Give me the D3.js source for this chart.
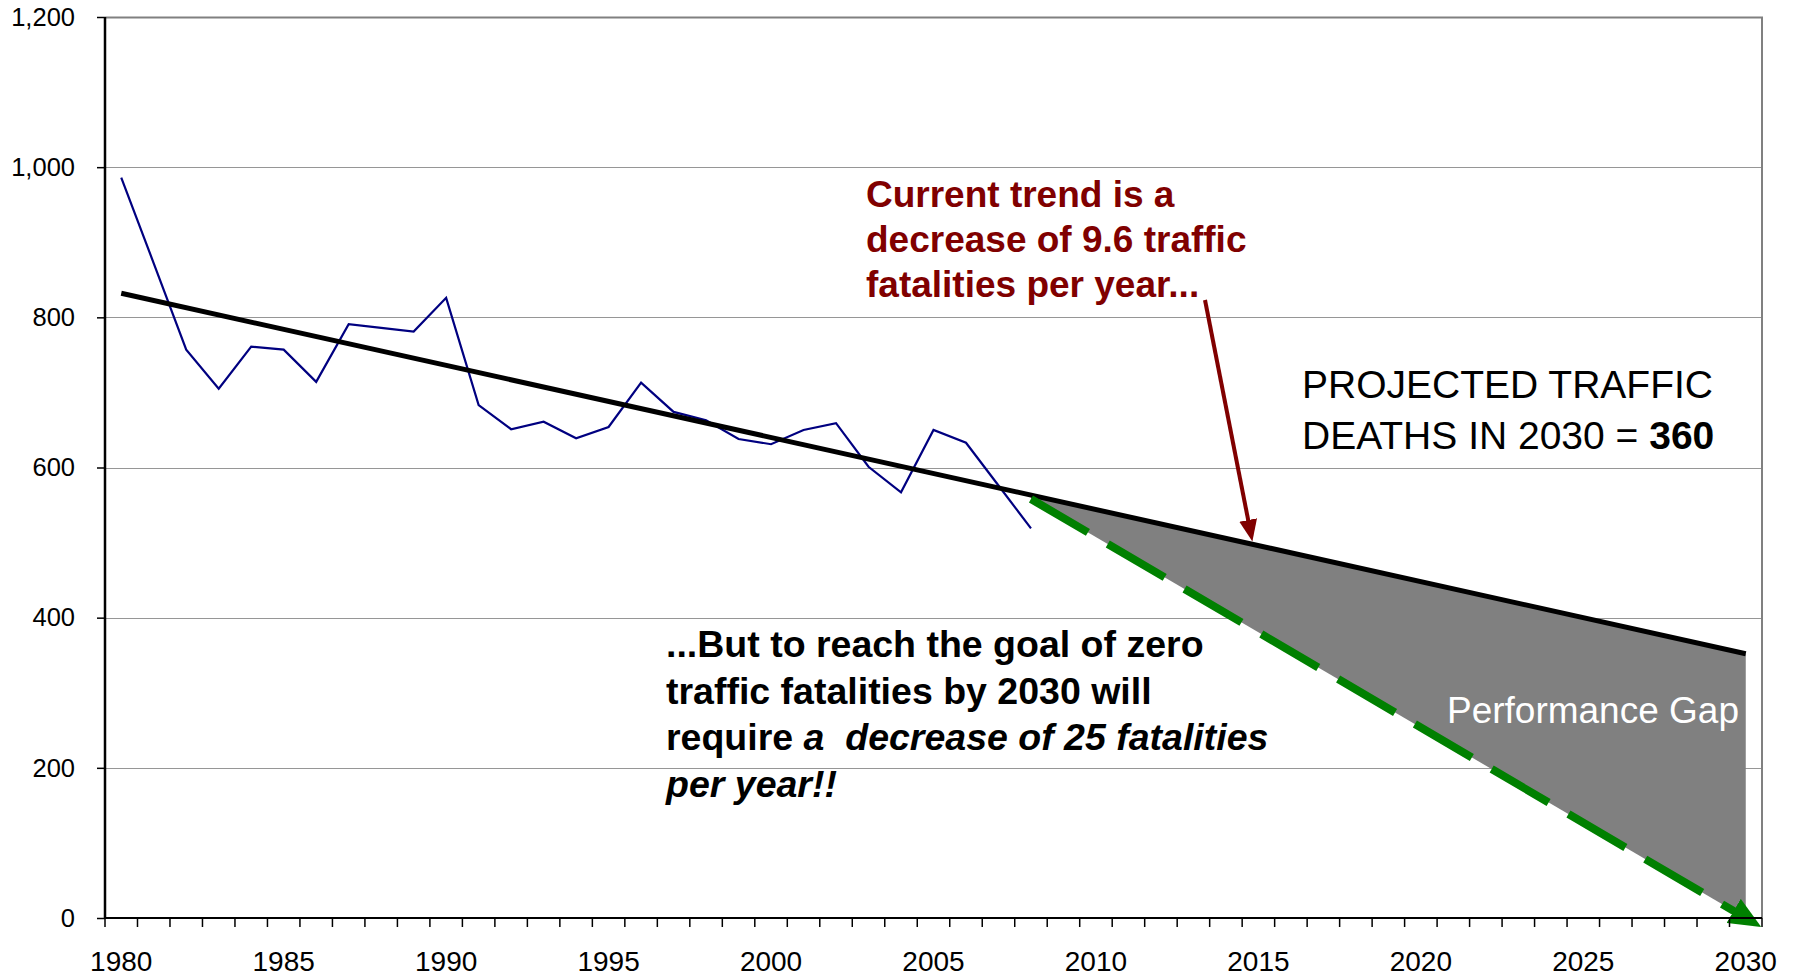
<!DOCTYPE html>
<html>
<head>
<meta charset="utf-8">
<script src="https://cdn.jsdelivr.net/npm/d3@7/dist/d3.min.js"></script>
<style>
body { margin: 0; background: #fff; }
text { font-family: "Liberation Sans", Arial, sans-serif; }
</style>
</head>
<body>
<div id="chart"></div>
<script>
// observed traffic fatalities
var fatalYears = [1980, 1981, 1982, 1983, 1984, 1985, 1986, 1987, 1988, 1989,
    1990, 1991, 1992, 1993, 1994, 1995, 1996, 1997, 1998, 1999,
    2000, 2001, 2002, 2003, 2004, 2005, 2006, 2007, 2008];
var fatalities = [986, 872, 757, 705, 761, 757, 714, 791, 786, 781,
    826, 683, 651, 661, 639, 654, 713, 674, 663, 638,
    631, 650, 659, 601, 567, 650, 633, 576, 519];

// linear trend (-9.6 / year)
var trendYears = [1980, 2030];
var trendValues = [832, 352];

// goal: zero by 2030
var goalYears = [2008, 2030];
var goalValues = [558, 0];

var axisYears = d3.range(1980, 2031);
var xLabelYears = [1980, 1985, 1990, 1995, 2000, 2005, 2010, 2015, 2020, 2025, 2030];
var yTicks = [0, 200, 400, 600, 800, 1000, 1200];

function chartBasics() {
    var margin = {
            top: 17,
            right: 34,
            bottom: 58,
            left: 105
        },
        width = 1796 - margin.left - margin.right,
        height = 976 - margin.top - margin.bottom;
    return {
        margin: margin,
        width: width,
        height: height
    };
}

var basics = chartBasics();
var margin = basics.margin,
    width = basics.width,
    height = basics.height;

var svg = d3.select("#chart")
    .append("svg")
    .attr("width", 1796)
    .attr("height", 976);

var defs = svg.append("defs");
defs.append("marker")
    .attr("id", "greenHead")
    .attr("markerUnits", "userSpaceOnUse")
    .attr("viewBox", "0 0 32 28")
    .attr("markerWidth", 32)
    .attr("markerHeight", 28)
    .attr("refX", 14)
    .attr("refY", 14)
    .attr("orient", "auto")
    .append("path")
    .attr("d", "M0,0L32,14L0,28Z")
    .attr("fill", "#008000");

defs.append("marker")
    .attr("id", "redHead")
    .attr("markerUnits", "userSpaceOnUse")
    .attr("viewBox", "0 0 22 18")
    .attr("markerWidth", 22)
    .attr("markerHeight", 18)
    .attr("refX", 2)
    .attr("refY", 9)
    .attr("orient", "auto")
    .append("path")
    .attr("d", "M0,0L22,9L0,18Z")
    .attr("fill", "#800000");

var plot = svg.append("g")
    .attr("transform", "translate(" + margin.left + "," + margin.top + ")");

var xScale = d3.scaleBand()
    .domain(axisYears)
    .range([0, width])
    .padding(0);

var cx = function(yr) {
    return xScale(yr) + xScale.bandwidth() / 2;
};

var yScale = d3.scaleLinear()
    .domain([0, 1200])
    .range([height, 0]);

var trendAt = d3.scaleLinear().domain(trendYears).range(trendValues);

// gridlines
plot.selectAll(".grid")
    .data(yTicks)
    .enter().append("line")
    .attr("class", "grid")
    .attr("x1", 0)
    .attr("x2", width)
    .attr("y1", function(d) { return Math.round(yScale(d)) + 0.5; })
    .attr("y2", function(d) { return Math.round(yScale(d)) + 0.5; })
    .attr("stroke", "#969696")
    .attr("stroke-width", 1);

// border top + right
plot.append("path")
    .attr("d", "M0," + 0.5 + "H" + width + "V" + height)
    .attr("fill", "none")
    .attr("stroke", "#808080")
    .attr("stroke-width", 2);

// performance gap
var gapPts = [
    [cx(goalYears[0]), yScale(trendAt(goalYears[0]))],
    [cx(goalYears[1]), yScale(trendAt(goalYears[1]))],
    [cx(goalYears[1]), yScale(goalValues[1])],
    [cx(goalYears[0]), yScale(goalValues[0])]
];
plot.append("path")
    .attr("d", "M" + gapPts.join("L") + "Z")
    .attr("fill", "#808080");

// observed line
var line = d3.line()
    .x(function(d, i) { return cx(fatalYears[i]); })
    .y(function(d) { return yScale(d); });

plot.append("path")
    .datum(fatalities)
    .attr("d", line)
    .attr("fill", "none")
    .attr("stroke", "#000080")
    .attr("stroke-width", 2.2);

// trend
var trendLine = d3.line()
    .x(function(d, i) { return cx(trendYears[i]); })
    .y(function(d) { return yScale(d); });

plot.append("path")
    .datum(trendValues)
    .attr("d", trendLine)
    .attr("fill", "none")
    .attr("stroke", "#000")
    .attr("stroke-width", 5);

// goal (dashed green arrow)
var goalLine = d3.line()
    .x(function(d, i) { return cx(goalYears[i]); })
    .y(function(d) { return yScale(d); });

plot.append("path")
    .datum(goalValues)
    .attr("d", goalLine)
    .attr("fill", "none")
    .attr("stroke", "#008000")
    .attr("stroke-width", 8)
    .attr("stroke-dasharray", "66,23")
    .attr("marker-end", "url(#greenHead)");

// y axis
var yAxis = d3.axisLeft(yScale)
    .tickValues(yTicks)
    .tickFormat(d3.format(","))
    .tickSize(8)
    .tickPadding(22);

var yg = plot.append("g").call(yAxis);
yg.select(".domain").remove();
yg.selectAll("line").attr("stroke", "#000").attr("stroke-width", 1.5);
yg.selectAll("text")
    .attr("font-size", 25.5)
    .attr("font-family", "Liberation Sans, Arial, sans-serif")
    .attr("fill", "#000");

// x axis ticks at category boundaries
var bounds = axisYears.map(function(d) { return xScale(d); }).concat([width]);
plot.selectAll(".xtick")
    .data(bounds)
    .enter().append("line")
    .attr("class", "xtick")
    .attr("x1", function(d) { return d; })
    .attr("x2", function(d) { return d; })
    .attr("y1", height)
    .attr("y2", height + 9)
    .attr("stroke", "#000")
    .attr("stroke-width", 1.5);

plot.selectAll(".xlabel")
    .data(xLabelYears)
    .enter().append("text")
    .attr("class", "xlabel")
    .attr("x", function(d) { return cx(d); })
    .attr("y", height + 53)
    .attr("text-anchor", "middle")
    .attr("font-size", 28)
    .text(function(d) { return d; });

// axis lines
plot.append("line")
    .attr("x1", 0).attr("x2", 0)
    .attr("y1", 0).attr("y2", height + 1)
    .attr("stroke", "#000").attr("stroke-width", 2.5);
plot.append("line")
    .attr("x1", -1).attr("x2", width)
    .attr("y1", height).attr("y2", height)
    .attr("stroke", "#000").attr("stroke-width", 2);

// annotations
var redLines = ["Current trend is a", "decrease of 9.6 traffic", "fatalities per year..."];
svg.append("g").selectAll("text")
    .data(redLines)
    .enter().append("text")
    .attr("x", 866)
    .attr("y", function(d, i) { return 207 + i * 45; })
    .attr("font-size", 37)
    .attr("font-weight", "bold")
    .attr("fill", "#800000")
    .text(function(d) { return d; });

// red arrow to trend line at 2015
var ax0 = 1205, ay0 = 300;
var ax1 = margin.left + cx(2015) - 6, ay1 = margin.top + yScale(trendAt(2015)) - 4;
var len = Math.hypot(ax1 - ax0, ay1 - ay0);
var ux = (ax1 - ax0) / len, uy = (ay1 - ay0) / len;
svg.append("line")
    .attr("x1", ax0).attr("y1", ay0)
    .attr("x2", ax1 - ux * 20).attr("y2", ay1 - uy * 20)
    .attr("stroke", "#800000")
    .attr("stroke-width", 4)
    .attr("marker-end", "url(#redHead)");

var proj = svg.append("g").attr("font-size", 39).attr("fill", "#000");
proj.append("text").attr("x", 1302).attr("y", 398).text("PROJECTED TRAFFIC");
var p2 = proj.append("text").attr("x", 1302).attr("y", 449);
p2.append("tspan").text("DEATHS IN 2030 = ");
p2.append("tspan").attr("font-weight", "bold").text("360");

var goalTxt = svg.append("g")
    .attr("font-size", 37.5)
    .attr("font-weight", "bold")
    .attr("fill", "#000");
goalTxt.append("text").attr("x", 666).attr("y", 657).text("...But to reach the goal of zero");
goalTxt.append("text").attr("x", 666).attr("y", 703.5).text("traffic fatalities by 2030 will");
var g3 = goalTxt.append("text").attr("x", 666).attr("y", 750);
g3.append("tspan").text("require ");
g3.append("tspan").attr("font-style", "italic").text("a\u00a0 decrease of 25 fatalities");
goalTxt.append("text").attr("x", 666).attr("y", 796.5)
    .attr("font-style", "italic").text("per year!!");

svg.append("text")
    .attr("x", 1739)
    .attr("y", 723)
    .attr("text-anchor", "end")
    .attr("font-size", 37)
    .attr("fill", "#fff")
    .text("Performance Gap");
</script>
</body>
</html>
